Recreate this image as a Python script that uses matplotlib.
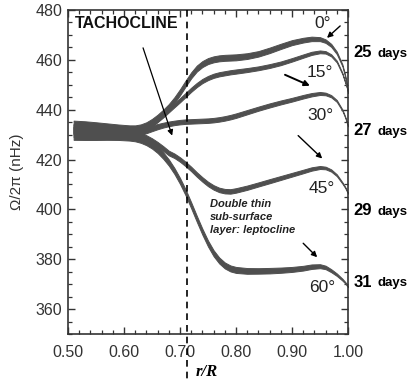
import numpy as np
import matplotlib.pyplot as plt
from matplotlib.ticker import MultipleLocator

# radius grid (r/R) shared by all latitude profiles
r = [0.51, 0.53, 0.55, 0.57, 0.59, 0.61, 0.62, 0.63, 0.64, 0.65,
     0.66, 0.67, 0.68, 0.69, 0.70, 0.71, 0.72, 0.73, 0.74, 0.75,
     0.76, 0.77, 0.78, 0.79, 0.80, 0.82, 0.84, 0.86, 0.88, 0.90,
     0.92, 0.935, 0.95, 0.96, 0.97, 0.98, 0.99, 0.995, 1.0]

# rotation rate Omega/2pi (nHz) per latitude
lat0 = [433.0, 432.8, 432.5, 432.2, 431.9, 431.7, 431.8, 432.3, 433.3, 434.8,
        436.6, 438.7, 441.0, 443.8, 447.0, 450.5, 453.8, 456.5, 458.3, 459.5,
        460.2, 460.6, 460.8, 460.9, 461.0, 461.5, 462.4, 463.8, 465.4, 466.9,
        467.9, 468.4, 468.3, 467.5, 465.8, 462.8, 457.8, 453.5, 447.0]
lat15 = [432.5, 432.3, 432.1, 431.9, 431.6, 431.4, 431.5, 432.0, 433.0, 434.4,
         436.0, 437.8, 439.8, 441.8, 443.8, 445.9, 448.0, 449.9, 451.5, 452.7,
         453.6, 454.2, 454.6, 455.0, 455.3, 455.9, 456.6, 457.5, 458.6, 460.0,
         461.5, 462.6, 463.2, 463.0, 461.8, 459.3, 454.5, 451.0, 447.5]
lat30 = [432.0, 431.8, 431.6, 431.4, 431.1, 430.9, 430.9, 431.2, 431.8, 432.5,
         433.2, 433.8, 434.3, 434.7, 435.0, 435.2, 435.3, 435.4, 435.5, 435.6,
         435.8, 436.1, 436.5, 437.0, 437.6, 439.0, 440.4, 441.7, 442.9, 444.0,
         445.2, 446.0, 446.5, 446.3, 445.4, 443.5, 439.8, 437.0, 433.5]
lat45 = [431.0, 430.9, 430.8, 430.6, 430.4, 430.1, 429.8, 429.3, 428.5, 427.4,
         426.0, 424.4, 422.6, 421.5, 420.0, 418.2, 416.2, 414.0, 412.0, 410.2,
         408.8, 407.8, 407.3, 407.2, 407.6, 408.7, 410.0, 411.3, 412.6, 413.9,
         415.2, 416.2, 416.8, 416.6, 415.6, 413.7, 410.6, 408.8, 406.5]
lat60 = [430.5, 430.4, 430.3, 430.2, 430.0, 429.6, 429.2, 428.5, 427.4, 425.9,
         424.0, 421.6, 418.8, 415.4, 411.4, 406.8, 401.6, 396.2, 391.0, 386.3,
         382.4, 379.5, 377.5, 376.3, 375.7, 375.3, 375.3, 375.4, 375.6, 375.9,
         376.4, 377.0, 377.2, 376.7, 375.4, 373.8, 371.8, 370.6, 369.0]

# uncertainty (half width, nHz) along the radius
err = [2.6, 2.55, 2.45, 2.3, 2.15, 2.0, 1.9, 1.8, 1.65, 1.5,
       1.4, 1.3, 1.25, 1.2, 1.2, 1.2, 1.2, 1.2, 1.2, 1.2,
       1.2, 1.2, 1.2, 1.2, 1.2, 1.15, 1.1, 1.1, 1.05, 1.0,
       0.95, 0.9, 0.8, 0.7, 0.6, 0.5, 0.38, 0.3, 0.25]
err_scale = [1.0, 0.7, 0.75, 0.75, 1.0]

profiles = [lat0, lat15, lat30, lat45, lat60]
lat_labels = ['0°', '15°', '30°', '45°', '60°']
lat_label_pos = [(0.955, 474.4), (0.95, 454.8), (0.95, 437.6), (0.953, 408.4), (0.9545, 368.8)]

periods = ['25', '27', '29', '31']
period_y = [462.8, 431.6, 399.6, 370.8]

r_tacho = 0.713

fig = plt.figure(figsize=(4.11, 3.81), dpi=100)
ax = fig.add_axes([0.1655, 0.1234, 0.6812, 0.8504])

band = '#4f4f4f'
r_arr = np.array(r)
for prof, s in zip(profiles, err_scale):
    c = np.array(prof)
    e = np.array(err) * s
    ax.fill_between(r_arr, c - e, c + e, color=band, edgecolor=band, lw=0.7, zorder=2)

# tachocline position, dashed line running down past the axis
ax.plot([r_tacho, r_tacho], [480, 331], ls=(0, (4, 3)), color='k', lw=1.2,
        clip_on=False, zorder=3)

ax.set_xlim(0.5, 1.0)
ax.set_ylim(350, 480)
ax.set_xticks([0.5, 0.6, 0.7, 0.8, 0.9, 1.0])
ax.set_xticklabels(['0.50', '0.60', '0.70', '0.80', '0.90', '1.00'])
ax.set_yticks([360, 380, 400, 420, 440, 460, 480])
ax.xaxis.set_minor_locator(MultipleLocator(0.02))
ax.yaxis.set_minor_locator(MultipleLocator(5))
ax.tick_params(which='both', direction='in', top=True, right=True, color='#333333')
ax.tick_params(which='major', length=5, width=1.0, labelsize=11.5, pad=8)
ax.tick_params(axis='y', which='major', pad=4)
ax.tick_params(which='minor', length=3, width=0.9)
for lab in ax.get_xticklabels() + ax.get_yticklabels():
    lab.set_family('Liberation Sans')
    lab.set_color('#333333')
for sp in ax.spines.values():
    sp.set_linewidth(1.2)
    sp.set_color('#333333')

ax.set_ylabel('Ω/2π (nHz)', family='Liberation Sans', fontsize=11, color='#333333',
              labelpad=8)
fig.text(207 / 411, 1 - 372 / 381, 'r/R', family='Liberation Serif', fontsize=12,
         fontweight='bold', style='italic', ha='center', va='center')

ax.text(0.512, 474.5, 'TACHOCLINE', family='Liberation Sans', fontweight='bold',
        fontsize=11.5, ha='left', va='center', color='#111111')

arrow = dict(arrowstyle='-|>', color='k', lw=1.0, mutation_scale=8, shrinkA=0, shrinkB=0)
ax.annotate('', xy=(0.686, 429.6), xytext=(0.634, 464.8), arrowprops=dict(arrow, lw=0.9))
ax.annotate('', xy=(0.9625, 468.8), xytext=(0.986, 473.6), arrowprops=arrow)
ax.annotate('', xy=(0.932, 449.6), xytext=(0.8875, 454.0), arrowprops=dict(arrow, lw=1.4))
ax.annotate('', xy=(0.954, 420.4), xytext=(0.911, 429.6), arrowprops=arrow)
ax.annotate('', xy=(0.945, 380.8), xytext=(0.92, 386.4), arrowprops=arrow)

for lab, (x, y) in zip(lat_labels, lat_label_pos):
    ax.text(x, y, lab, family='Liberation Sans', fontsize=12.5, ha='center',
            va='center', color='#222222')

ax.text(0.7536, 396.9, 'Double thin\nsub-surface\nlayer: leptocline',
        family='Liberation Sans', fontsize=8, fontweight='bold', style='italic',
        ha='left', va='center', linespacing=1.35, color='#222222')

for p, y in zip(periods, period_y):
    ax.text(1.0095, y, p, family='Liberation Sans', fontsize=12, fontweight='bold',
            ha='left', va='center', clip_on=False)
    ax.text(1.0525, y - 0.5, 'days', family='Liberation Sans', fontsize=9.5,
            fontweight='bold', ha='left', va='center', clip_on=False)

fig.savefig('out.png', dpi=100, facecolor='white')
